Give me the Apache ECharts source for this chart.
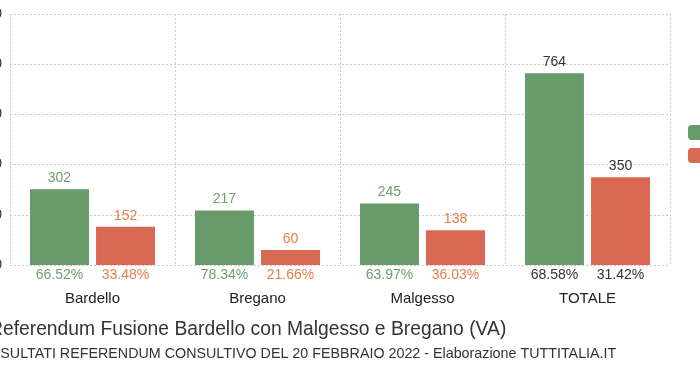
<!DOCTYPE html>
<html><head><meta charset="utf-8">
<script src="https://cdn.jsdelivr.net/npm/echarts@6/dist/echarts.min.js"></script>
<style>html,body{margin:0;padding:0;background:#fff}#c{width:700px;height:367px}</style>
</head><body><div id="c"></div>
<script>
const categories = ['Bardello', 'Bregano', 'Malgesso', 'TOTALE'];
const siValues = [302, 217, 245, 764];
const noValues = [152, 60, 138, 350];
const siPerc = ['66.52%', '78.34%', '63.97%', '68.58%'];
const noPerc = ['33.48%', '21.66%', '36.03%', '31.42%'];
const yTicks = [0, 200, 400, 600, 800, 1000];
const seriesNames = ['Sì', 'No'];

const FONT = '"Liberation Sans", Arial, sans-serif';
const GREEN = '#699a6b', RED = '#d86952';
const GREEN_T = '#6f9f70', RED_T = '#e2814c', DARK = '#333333';

function items(vals, col) {
  return vals.map((v, i) => ({
    value: v,
    label: { color: categories[i] === 'TOTALE' ? DARK : col }
  }));
}

const chart = echarts.init(document.getElementById('c'), null, {renderer: 'canvas'});
chart.setOption({
  animation: false,
  textStyle: { fontFamily: FONT },
  title: [
    { text: 'Referendum Fusione Bardello con Malgesso e Bregano (VA)', left: -16, top: 315,
      textStyle: { fontFamily: FONT, fontSize: 19.3, fontWeight: 'normal', color: '#333' } },
    { text: 'RISULTATI REFERENDUM CONSULTIVO DEL 20 FEBBRAIO 2022 - Elaborazione TUTTITALIA.IT', left: -19, top: 342,
      textStyle: { fontFamily: FONT, fontSize: 14.3, fontWeight: 'normal', color: '#333' } }
  ],
  legend: {
    orient: 'vertical', left: 683, top: 120, itemWidth: 25, itemHeight: 15, itemGap: 8,
    data: seriesNames, textStyle: { fontFamily: FONT, fontSize: 13, color: '#333' }
  },
  grid: { left: 10, right: 30, top: 14, bottom: 102, containLabel: false, outerBoundsMode: 'none' },
  xAxis: {
    type: 'category', data: categories,
    axisLine: { show: false }, axisTick: { show: false },
    splitLine: { show: true, interval: 0, lineStyle: { color: '#cccccc', type: [2, 2] } },
    axisLabel: {
      margin: 2, interval: 0, hideOverlap: false,
      formatter: function (val, idx) {
        const t = val === 'TOTALE';
        const a = t ? 'gd' : 'g', b = t ? 'rd' : 'r';
        return '{' + a + '|' + siPerc[idx] + '}{' + b + '|' + noPerc[idx] + '}\n{c|' + val + '}';
      },
      rich: {
        g: { color: GREEN_T, fontSize: 14, width: 66, align: 'center', lineHeight: 16, fontFamily: FONT },
        r: { color: RED_T, fontSize: 14, width: 66, align: 'center', lineHeight: 16, fontFamily: FONT },
        gd: { color: DARK, fontSize: 14, width: 66, align: 'center', lineHeight: 16, fontFamily: FONT },
        rd: { color: DARK, fontSize: 14, width: 66, align: 'center', lineHeight: 16, fontFamily: FONT },
        c: { color: '#222', fontSize: 15, lineHeight: 32, align: 'center', fontFamily: FONT }
      }
    }
  },
  yAxis: {
    type: 'value', min: yTicks[0], max: yTicks[yTicks.length - 1], interval: yTicks[1] - yTicks[0],
    axisLine: { show: false }, axisTick: { show: false },
    splitLine: { show: true, lineStyle: { color: '#cccccc', type: [2, 2] } },
    axisLabel: { color: '#333', fontSize: 14, margin: 8, fontFamily: FONT, formatter: function (v) { return String(v); } }
  },
  series: [
    { name: seriesNames[0], type: 'bar', data: items(siValues, GREEN_T), barWidth: 59, barGap: '12%',
      itemStyle: { color: GREEN },
      label: { show: true, position: 'top', distance: 4, fontSize: 14, fontFamily: FONT } },
    { name: seriesNames[1], type: 'bar', data: items(noValues, RED_T), barWidth: 59,
      itemStyle: { color: RED },
      label: { show: true, position: 'top', distance: 4, fontSize: 14, fontFamily: FONT } }
  ]
});
</script></body></html>
